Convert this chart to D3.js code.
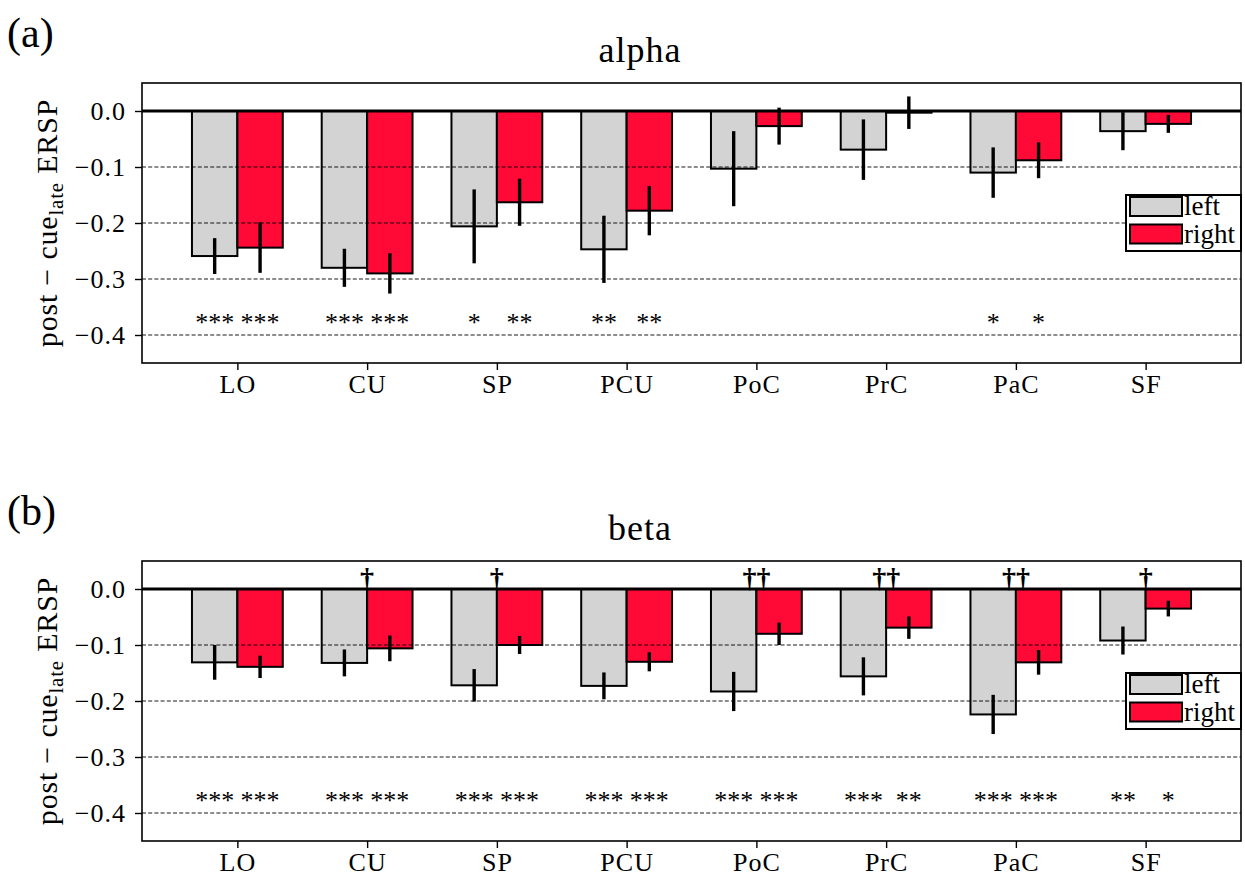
<!DOCTYPE html>
<html>
<head>
<meta charset="utf-8">
<script src="https://cdn.jsdelivr.net/npm/d3@7"></script>
<style>
  body { margin: 0; background: #fff; }
  svg text { font-family: "Liberation Serif", serif; fill: #000; }
</style>
</head>
<body>
<div id="chart"></div>
<script>
// regions on the x axis
const regions = ['LO', 'CU', 'SP', 'PCU', 'PoC', 'PrC', 'PaC', 'SF'];

// alpha band
const alphaLeft = [-0.259, -0.280, -0.206, -0.247, -0.103, -0.069, -0.110, -0.036];
const alphaLeftErr = [0.032, 0.034, 0.066, 0.060, 0.067, 0.054, 0.045, 0.034];
const alphaRight = [-0.244, -0.290, -0.163, -0.178, -0.027, -0.003, -0.088, -0.023];
const alphaRightErr = [0.045, 0.036, 0.042, 0.044, 0.033, 0.029, 0.032, 0.016];
const alphaStarsLeft = ['***', '***', '*', '**', '', '', '*', ''];
const alphaStarsRight = ['***', '***', '**', '**', '', '', '*', ''];
const alphaDaggers = ['', '', '', '', '', '', '', ''];

// beta band
const betaLeft = [-0.131, -0.132, -0.172, -0.173, -0.183, -0.156, -0.224, -0.092];
const betaLeftErr = [0.031, 0.024, 0.029, 0.024, 0.035, 0.034, 0.035, 0.025];
const betaRight = [-0.139, -0.106, -0.100, -0.130, -0.080, -0.069, -0.131, -0.035];
const betaRightErr = [0.020, 0.023, 0.016, 0.017, 0.020, 0.020, 0.022, 0.014];
const betaStarsLeft = ['***', '***', '***', '***', '***', '***', '***', '**'];
const betaStarsRight = ['***', '***', '***', '***', '***', '**', '***', '*'];
const betaDaggers = ['', '\u2020', '\u2020', '', '\u2020\u2020', '\u2020\u2020', '\u2020\u2020', '\u2020'];

const yTicks = [0.0, -0.1, -0.2, -0.3, -0.4];
const gridTicks = [-0.1, -0.2, -0.3, -0.4];
const seriesNames = ['left', 'right'];
const colors = ['#d3d3d3', '#ff0a37'];

const width = 1245;
const height = 878;
const panelLeft = 142;
const panelWidth = 1099;
const panelHeight = 280;
const barW = 0.35;
const starLevel = -0.37;
const titleX = 640;

const svg = d3.select('#chart')
  .append('svg')
  .attr('width', width)
  .attr('height', height);

function drawPanel(top, letter, title, left, leftErr, right, rightErr, starsL, starsR, daggers) {
  const g = svg.append('g')
    .attr('transform', 'translate(' + panelLeft + ',' + top + ')');

  const x = d3.scaleLinear()
    .domain([-0.735, 7.735])
    .range([0, panelWidth]);

  const y = d3.scaleLinear()
    .domain([-0.45, 0.05])
    .range([panelHeight, 0]);

  const rows = regions.map((r, i) => ({
    i: i,
    vals: [left[i], right[i]],
    errs: [leftErr[i], rightErr[i]],
    stars: [starsL[i], starsR[i]],
    dagger: daggers[i]
  }));

  // bars
  const cat = g.selectAll('.cat')
    .data(rows)
    .enter().append('g')
    .attr('class', 'cat');

  cat.selectAll('rect')
    .data(d => d.vals.map((v, k) => ({ i: d.i, k: k, v: v })))
    .enter().append('rect')
    .attr('x', d => x(d.i - barW + d.k * barW))
    .attr('width', d => x(barW) - x(0))
    .attr('y', d => y(Math.max(0, d.v)))
    .attr('height', d => Math.abs(y(d.v) - y(0)))
    .attr('fill', d => colors[d.k])
    .attr('stroke', '#000')
    .attr('stroke-width', 2);

  // grid lines (drawn over the bars)
  g.selectAll('.grid')
    .data(gridTicks)
    .enter().append('line')
    .attr('x1', 0)
    .attr('x2', panelWidth)
    .attr('y1', d => y(d))
    .attr('y2', d => y(d))
    .attr('stroke', '#000')
    .attr('stroke-width', 0.9)
    .attr('stroke-dasharray', '4,2.2');

  // zero line
  g.append('line')
    .attr('x1', 0)
    .attr('x2', panelWidth)
    .attr('y1', y(0))
    .attr('y2', y(0))
    .attr('stroke', '#000')
    .attr('stroke-width', 2.8);

  // error bars
  cat.selectAll('.err')
    .data(d => d.vals.map((v, k) => ({ i: d.i, k: k, v: v, e: d.errs[k] })))
    .enter().append('line')
    .attr('class', 'err')
    .attr('x1', d => x(d.i - barW / 2 + d.k * barW))
    .attr('x2', d => x(d.i - barW / 2 + d.k * barW))
    .attr('y1', d => y(d.v - d.e))
    .attr('y2', d => y(d.v + d.e))
    .attr('stroke', '#000')
    .attr('stroke-width', 3.4);

  // significance stars
  cat.selectAll('.star')
    .data(d => d.stars.map((s, k) => ({ i: d.i, k: k, s: s })))
    .enter().append('text')
    .attr('class', 'star')
    .attr('x', d => x(d.i - barW / 2 + d.k * barW))
    .attr('y', y(starLevel) + 13)
    .attr('text-anchor', 'middle')
    .style('font-size', '26px')
    .text(d => d.s);

  // daggers
  cat.append('text')
    .attr('x', d => x(d.i))
    .attr('y', y(0) - 2)
    .attr('text-anchor', 'middle')
    .style('font-size', '28px')
    .style('font-weight', 'bold')
    .text(d => d.dagger);

  // axes
  const yAxis = d3.axisLeft(y)
    .tickValues(yTicks)
    .tickFormat(d3.format('.1f'))
    .tickSize(7)
    .tickPadding(9);

  const xAxis = d3.axisBottom(x)
    .tickValues(d3.range(regions.length))
    .tickFormat(i => regions[i])
    .tickSize(7)
    .tickPadding(5);

  const ya = g.append('g').call(yAxis);
  const xa = g.append('g')
    .attr('transform', 'translate(0,' + panelHeight + ')')
    .call(xAxis);

  [ya, xa].forEach(a => {
    a.attr('font-family', null);
    a.select('.domain').remove();
    a.selectAll('line').attr('stroke', '#000').attr('stroke-width', 1.4);
    a.selectAll('text')
      .attr('fill', '#000')
      .style('font-family', '"Liberation Serif", serif')
      .style('font-size', '26px')
      .style('letter-spacing', '1px');
  });

  // frame
  g.append('rect')
    .attr('width', panelWidth)
    .attr('height', panelHeight)
    .attr('fill', 'none')
    .attr('stroke', '#000')
    .attr('stroke-width', 1.6);

  // legend
  const lg = g.append('g')
    .attr('transform', 'translate(' + (panelWidth - 115) + ',112)');
  lg.append('rect')
    .attr('width', 115)
    .attr('height', 56)
    .attr('fill', '#fff')
    .attr('stroke', '#000')
    .attr('stroke-width', 2);
  seriesNames.forEach((name, k) => {
    lg.append('rect')
      .attr('x', 4)
      .attr('y', 2 + k * 27.5)
      .attr('width', 52)
      .attr('height', 19)
      .attr('fill', colors[k])
      .attr('stroke', '#000')
      .attr('stroke-width', 2);
    lg.append('text')
      .attr('x', 58)
      .attr('y', 20 + k * 27.5)
      .style('font-size', '27px')
      .text(name);
  });

  // title
  svg.append('text')
    .attr('x', titleX)
    .attr('y', top - 21)
    .attr('text-anchor', 'middle')
    .style('font-size', '36px')
    .style('letter-spacing', '1px')
    .text(title);

  // panel letter
  svg.append('text')
    .attr('x', 7)
    .attr('y', top - 36)
    .style('font-size', '42px')
    .text(letter);

  // y label
  const yl = svg.append('text')
    .attr('transform', 'translate(57,' + (top + panelHeight / 2) + ') rotate(-90)')
    .attr('text-anchor', 'middle')
    .style('font-size', '30px')
    .style('letter-spacing', '0.8px');
  yl.append('tspan').text('post \u2212 cue');
  yl.append('tspan').attr('dy', 6).style('font-size', '21px').text('late');
  yl.append('tspan').attr('dy', -6).text(' ERSP');
}

drawPanel(83, '(a)', 'alpha', alphaLeft, alphaLeftErr, alphaRight, alphaRightErr,
  alphaStarsLeft, alphaStarsRight, alphaDaggers);
drawPanel(561, '(b)', 'beta', betaLeft, betaLeftErr, betaRight, betaRightErr,
  betaStarsLeft, betaStarsRight, betaDaggers);
</script>
</body>
</html>
